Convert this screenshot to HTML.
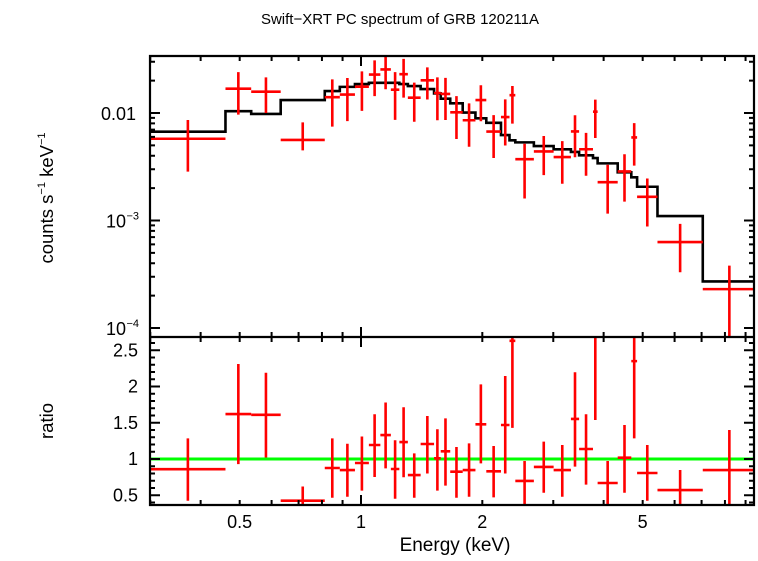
<!DOCTYPE html>
<html><head><meta charset="utf-8"><style>
body{margin:0;background:#fff;width:758px;height:556px;overflow:hidden}
svg text{font-family:"Liberation Sans",sans-serif;fill:#000}
</style></head><body>
<svg id="chart" width="758" height="556" viewBox="0 0 758 556" xmlns="http://www.w3.org/2000/svg">
<text x="400" y="24" font-size="15" text-anchor="middle">Swift−XRT PC spectrum of GRB 120211A</text>
<text transform="translate(53,198) rotate(-90)" font-size="18.5" text-anchor="middle">counts s<tspan font-size="11" dy="-8">−1</tspan><tspan dy="8"> keV</tspan><tspan font-size="11" dy="-8">−1</tspan></text>
<text transform="translate(53,421) rotate(-90)" font-size="18.5" text-anchor="middle">ratio</text>
<text x="455" y="551" font-size="19" text-anchor="middle">Energy (keV)</text>
<g id="g"></g>
</svg>
<script>
const edges=[0.3,0.461,0.534,0.632,0.813,0.886,0.966,1.046,1.117,1.186,1.245,1.307,1.406,1.518,1.577,1.665,1.788,1.923,2.046,2.225,2.336,2.415,2.685,3.006,3.318,3.477,3.764,3.865,4.335,4.685,4.843,5.441,7.048,9.55];
const model=[0.0067,0.0104,0.0098,0.0132,0.0160,0.0175,0.0186,0.0191,0.0191,0.0191,0.0186,0.0178,0.0167,0.0152,0.0136,0.0123,0.0101,0.00893,0.0081,0.00624,0.00557,0.00533,0.00493,0.00459,0.00434,0.00404,0.00381,0.0034,0.00281,0.00252,0.00206,0.0011,0.000271];
const flux=[0.00576,0.01685,0.01578,0.00561,0.01402,0.01484,0.01758,0.02279,0.0254,0.01646,0.02295,0.01387,0.02016,0.01535,0.01504,0.01015,0.00856,0.0132,0.00672,0.00917,0.01465,0.00372,0.00439,0.00389,0.00674,0.0046,0.01029,0.00227,0.00286,0.00592,0.00166,0.00063,0.00023];
const fluxHi=[0.00861,0.0240,0.02146,0.00818,0.02056,0.02118,0.02437,0.03088,0.0340,0.02403,0.03186,0.01919,0.0266,0.02143,0.02122,0.01434,0.01228,0.01813,0.00956,0.01338,0.01782,0.00518,0.00611,0.00548,0.00953,0.00653,0.01333,0.0033,0.00413,0.00806,0.00246,0.00093,0.00038];
const fluxLo=[0.00285,0.00967,0.0100,0.00449,0.00746,0.0084,0.01047,0.01436,0.01662,0.00863,0.01391,0.0083,0.01336,0.00856,0.0086,0.00573,0.00485,0.00839,0.00381,0.00499,0.00797,0.0016,0.00264,0.0022,0.00388,0.00261,0.00586,0.00116,0.0015,0.00324,0.00088,0.00033,0.00008];
const ratio=[0.86,1.62,1.61,0.425,0.876,0.848,0.945,1.193,1.33,0.862,1.234,0.779,1.207,1.01,1.106,0.825,0.848,1.478,0.83,1.469,2.63,0.697,0.89,0.848,1.552,1.138,2.7,0.669,1.018,2.35,0.807,0.572,0.848];
const ratioHi=[1.285,2.31,2.19,0.62,1.285,1.21,1.31,1.617,1.78,1.258,1.713,1.078,1.593,1.41,1.56,1.166,1.216,2.03,1.18,2.145,3.2,0.972,1.24,1.193,2.196,1.617,3.5,0.972,1.469,3.2,1.193,0.848,1.40];
const ratioLo=[0.425,0.93,1.02,0.34,0.466,0.48,0.563,0.752,0.87,0.452,0.748,0.466,0.80,0.563,0.632,0.466,0.48,0.94,0.47,0.80,1.43,0.3,0.535,0.48,0.894,0.646,1.538,0.3,0.535,1.285,0.425,0.3,0.3];
const xTickLabels=["0.5","1","2","5"];
const xTickVals=[0.5,1,2,5];
const ratioTickLabels=["0.5","1","1.5","2","2.5"];
const ratioTickVals=[0.5,1,1.5,2,2.5];

const L=150,R=754,T1=56,B1=337,B2=505;
const X=e=>361+403*Math.log10(e);
const Y1=v=>113-107.5*Math.log10(v/0.01);
const Y2=r=>459-72.5*(r-1);
const g=document.getElementById('g');
const NS='http://www.w3.org/2000/svg';
function el(t,a){const e=document.createElementNS(NS,t);for(const k in a)e.setAttribute(k,a[k]);g.appendChild(e);return e;}
function clip(y,a,b){return Math.max(a,Math.min(b,y));}

let d='';
for(let i=0;i<model.length;i++){const y=Y1(model[i]);d+=(i?'L':'M')+X(edges[i])+','+y+'L'+Math.min(R,X(edges[i+1]))+','+y;}
const m=el('path',{d:d,fill:'none',stroke:'#000','stroke-width':2.6});



const gl=el('line',{x1:L,x2:R,y1:Y2(1),y2:Y2(1),stroke:'#00ff00','stroke-width':3});



for(let i=0;i<flux.length;i++){
  const x0=Math.max(L,X(edges[i])),x1=Math.min(R,X(edges[i+1])),xc=X(Math.sqrt(edges[i]*edges[i+1]));
  const p=el('path',{d:`M${x0},${Y1(flux[i])}L${x1},${Y1(flux[i])}M${xc},${clip(Y1(fluxHi[i]),T1,B1)}L${xc},${clip(Y1(fluxLo[i]),T1,B1)}`,stroke:'#ff0000','stroke-width':2.6,fill:'none'});
  
  
  const yr=Y2(ratio[i]);
  let dd=`M${xc},${clip(Y2(ratioHi[i]),B1,B2)}L${xc},${clip(Y2(ratioLo[i]),B1,B2)}`;
  if(yr>B1&&yr<B2)dd+=`M${x0},${yr}L${x1},${yr}`;
  const q=el('path',{d:dd,stroke:'#ff0000','stroke-width':2.6,fill:'none'});
  
  
}

const f=el('path',{d:`M${L},${T1}H${R}V${B2}H${L}Z M${L},${B1}H${R}`,fill:'none',stroke:'#000','stroke-width':2.2});



let td='';
const mults=[0.3,0.4,0.5,0.6,0.7,0.8,0.9,1,2,3,4,5,6,7,8,9];
for(const v of mults){const x=X(v);const len=(v===1)?10:5;
  for(const y of [T1,B1])td+=`M${x},${y}v${len}`;
  for(const y of [B1,B2])td+=`M${x},${y}v${-len}`;}
for(let dec=-4;dec<=-2;dec++)for(let k=1;k<=9;k++){const v=k*Math.pow(10,dec);const y=Y1(v);if(y<T1||y>B1)continue;const len=k===1?10:5;td+=`M${L},${y}h${len}M${R},${y}h${-len}`;}
for(let r=0.4;r<=2.7;r+=0.1){const y=Y2(r);if(y<B1||y>B2)continue;const maj=Math.abs(r*2-Math.round(r*2))<1e-6;const len=maj?10:5;td+=`M${L},${y}h${len}M${R},${y}h${-len}`;}
const tk=el('path',{d:td,stroke:'#000','stroke-width':2,fill:'none'});



function txt(s,x,y,anchor,name,fs){const t=el('text',{x:x,y:y,'font-size':fs||18,'text-anchor':anchor});t.textContent=s;return t;}
xTickLabels.forEach((s,i)=>txt(s,X(xTickVals[i]),528,'middle','x-tick-label'));
ratioTickLabels.forEach((s,i)=>txt(s,138,Y2(ratioTickVals[i])+6,'end','ratio-tick-label'));
txt('0.01',136,Y1(0.01)+7,'end','y-tick-label');
txt('10',126,Y1(0.001)+7,'end','y-tick-label');
txt('−3',139,Y1(0.001)-1,'end','y-tick-exponent',11);
txt('10',126,Y1(0.0001)+7,'end','y-tick-label');
txt('−4',139,Y1(0.0001)-1,'end','y-tick-exponent',11);
</script>
</body></html>
